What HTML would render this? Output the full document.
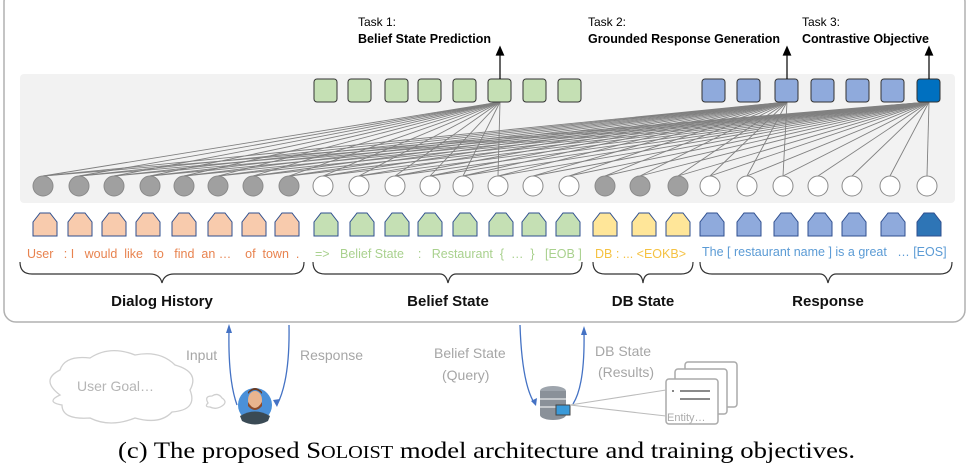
<!DOCTYPE html>
<html><head><meta charset="utf-8"><style>
html,body{margin:0;padding:0;background:#fff;width:971px;height:473px;overflow:hidden}
svg{display:block}
.t{font-family:"Liberation Sans",sans-serif}
</style></head><body>
<svg id="s" width="971" height="473" viewBox="0 0 971 473" xmlns="http://www.w3.org/2000/svg">
<rect x="4" y="-10" width="961" height="332" rx="12" fill="#fff" stroke="#b0b0b0" stroke-width="1.5"/>
<rect x="20" y="74" width="935" height="129" rx="4" fill="#f2f2f2"/>
<g id="lines" stroke="#808080" stroke-width="0.9"></g>
<g id="shapes"></g>
<g class="t" font-size="12.5" fill="#000">
<text x="358" y="26" font-size="12">Task 1:</text>
<text x="358" y="43" font-weight="bold" textLength="133">Belief State Prediction</text>
<text x="588" y="26" font-size="12">Task 2:</text>
<text x="588" y="43" font-weight="bold" textLength="192">Grounded Response Generation</text>
<text x="802" y="26" font-size="12">Task 3:</text>
<text x="802" y="43" font-weight="bold" textLength="127">Contrastive Objective</text>
</g>
<g stroke="#000" stroke-width="1.2" fill="#000">
<line x1="500" y1="79" x2="500" y2="54"/><path d="M496.5 55 L500 47 L503.5 55Z"/>
<line x1="787" y1="79" x2="787" y2="54"/><path d="M783.5 55 L787 47 L790.5 55Z"/>
<line x1="929" y1="79" x2="929" y2="54"/><path d="M925.5 55 L929 47 L932.5 55Z"/>
</g>
<g class="t" font-size="12.5" stroke="none">
<text x="27" y="258" fill="#e8834f">User&#160;&#160; : I&#160;&#160; would&#160; like&#160;&#160; to&#160;&#160; find&#160; an …&#160;&#160;&#160; of&#160; town&#160; .</text>
<text x="315" y="258" fill="#a9d18e">=&gt;&#160;&#160; Belief State&#160;&#160;&#160; :&#160;&#160; Restaurant&#160; {&#160; …&#160; }&#160;&#160; [EOB ]</text>
<text x="595" y="258" fill="#f5c242">DB : ... &lt;EOKB&gt;</text>
<text x="702" y="256" fill="#5b9bd5">The [ restaurant name ] is a great&#160;&#160; … [EOS]</text>
</g>
<g fill="none" stroke="#333" stroke-width="1.2">
<path d="M20 262 Q20 274 32 274 L150 274 Q160 274 162 283 Q164 274 174 274 L292 274 Q304 274 304 262"/>
<path d="M313 262 Q313 274 325 274 L440 274 Q446 274 448 283 Q450 274 456 274 L570 274 Q582 274 582 262"/>
<path d="M593 262 Q593 274 605 274 L636 274 Q642 274 643 283 Q644 274 650 274 L681 274 Q693 274 693 262"/>
<path d="M700 262 Q700 274 712 274 L820 274 Q826 274 828 283 Q830 274 836 274 L940 274 Q952 274 952 262"/>
</g>
<g class="t" font-size="15" font-weight="bold" fill="#111" text-anchor="middle">
<text x="162" y="306">Dialog History</text>
<text x="448" y="306">Belief State</text>
<text x="643" y="306">DB State</text>
<text x="828" y="306">Response</text>
</g>
<g fill="none" stroke="#cfcfcf" stroke-width="1.3">
<path d="M60 395 Q40 380 60 370 Q65 355 90 358 Q110 345 135 355 Q160 350 175 365 Q200 372 190 390 Q198 410 172 412 Q160 425 135 418 Q110 428 90 418 Q62 420 62 405 Q45 402 60 395Z"/>
<path d="M208 403 Q204 396 212 396 Q218 392 222 398 Q228 402 222 406 Q216 410 210 407 Q204 407 208 403Z"/>
</g>
<text class="t" x="77" y="391" font-size="14" fill="#b5b5b5">User Goal…</text>
<g class="t" font-size="14" fill="#a6a6a6">
<text x="186" y="360">Input</text>
<text x="300" y="360">Response</text>
<text x="434" y="358">Belief State</text>
<text x="442" y="380">(Query)</text>
<text x="595" y="356">DB State</text>
<text x="598" y="377">(Results)</text>
</g>
<g fill="none" stroke="#4472c4" stroke-width="1.3">
<path d="M237 405 Q228 380 229 330"/>
<path d="M289 325 Q290 380 277 405"/>
<path d="M520 325 Q522 385 535 404"/>
<path d="M573 404 Q585 385 584 332"/>
</g>
<g fill="#4472c4">
<path d="M226 333 L229 324 L232 333Z"/><path d="M581 335 L584 326 L587 335Z"/>
<path d="M273 400 L277 407 L280 399Z"/><path d="M531 401 L536 406 L537 398Z"/>
</g>
<circle cx="255" cy="405" r="17" fill="#4a90d9"/>
<path d="M240 416 Q255 407 270 416 L268 421 Q255 428 242 421Z" fill="#3a4a55"/>
<ellipse cx="255" cy="400" rx="7" ry="9" fill="#e8b48f"/>
<path d="M248 402 Q255 414 262 402 L262 406 Q255 414 248 406Z" fill="#8b4a2b"/>
<path d="M248 394 Q255 386 262 394 L262 392 Q255 384 248 392Z" fill="#6b3a20"/>
<g>
<ellipse cx="553" cy="391" rx="13" ry="5" fill="#9ea5ad"/>
<rect x="540" y="391" width="26" height="24" fill="#8a9199"/>
<ellipse cx="553" cy="415" rx="13" ry="5" fill="#8a9199"/>
<line x1="540" y1="399" x2="566" y2="399" stroke="#fff"/><line x1="540" y1="407" x2="566" y2="407" stroke="#fff"/>
<rect x="556" y="405" width="14" height="10" fill="#3a9ad9" stroke="#444"/>
</g>
<g fill="#fff" stroke="#aaa" stroke-width="1.5">
<rect x="685" y="362" width="52" height="45" rx="3"/>
<rect x="675" y="369" width="52" height="45" rx="3"/>
<rect x="666" y="379" width="52" height="45" rx="3"/>
</g>
<g stroke="#bbb"><line x1="570" y1="405" x2="666" y2="390"/><line x1="570" y1="405" x2="666" y2="416"/></g>
<g stroke="#444" stroke-width="1.3"><line x1="672" y1="391" x2="674" y2="391"/><line x1="680" y1="391" x2="710" y2="391"/><line x1="680" y1="399" x2="710" y2="399"/></g>
<text class="t" x="667" y="421" font-size="11" fill="#aaa">Entity…</text>
<text x="118" y="458" font-family="Liberation Serif,serif" font-size="23" fill="#000" textLength="737" lengthAdjust="spacingAndGlyphs">(c) The proposed S<tspan font-size="17.5">OLOIST</tspan> model architecture and training objectives.</text>
</svg>
<script>
var NS="http://www.w3.org/2000/svg";
function el(p,t,a){var e=document.createElementNS(NS,t);for(var k in a)e.setAttribute(k,a[k]);p.appendChild(e);return e;}
var L=document.getElementById('lines'),S=document.getElementById('shapes');
var cx=[43,79,114,150,184,218,253,289,323,359,395,430,463,498,533,569,605,640,678,710,747,783,818,852,890,927];
var gray=function(i){return i<8||(i>=16&&i<19);};
var tg=[[500,13],[787,21],[929,25]];
tg.forEach(function(t){for(var i=0;i<=t[1];i++){el(L,'line',{x1:cx[i],y1:176,x2:t[0],y2:102});}});
[314,348,385,418,453,488,523,558].forEach(function(x){el(S,'rect',{x:x,y:79,width:23,height:23,rx:3,fill:'#c5e0b4',stroke:'#333','stroke-width':1});});
[702,737,775,811,846,881,917].forEach(function(x,i){el(S,'rect',{x:x,y:79,width:23,height:23,rx:3,fill:i==6?'#0070c0':'#8faadc',stroke:'#333','stroke-width':1});});
cx.forEach(function(x,i){el(S,'circle',{cx:x,cy:186,r:10,fill:gray(i)?'#a0a0a0':'#fff',stroke:'#8a8a8a','stroke-width':1});});
var px=[45,80,114,148,184,220,254,287,326,362,397,430,465,501,534,568,605,644,678,712,749,786,820,854,893,929];
px.forEach(function(x,i){var c=i<8?'#f8cbad':i<16?'#c5e0b4':i<19?'#ffe699':i==25?'#2e75b6':'#8faadc';
el(S,'path',{d:'M'+(x-12)+' 236 L'+(x-12)+' 222 L'+(x-5)+' 213 L'+(x+5)+' 213 L'+(x+12)+' 222 L'+(x+12)+' 236Z',fill:c,stroke:'#2f4f8f','stroke-width':1});});
</script>
</body></html>
